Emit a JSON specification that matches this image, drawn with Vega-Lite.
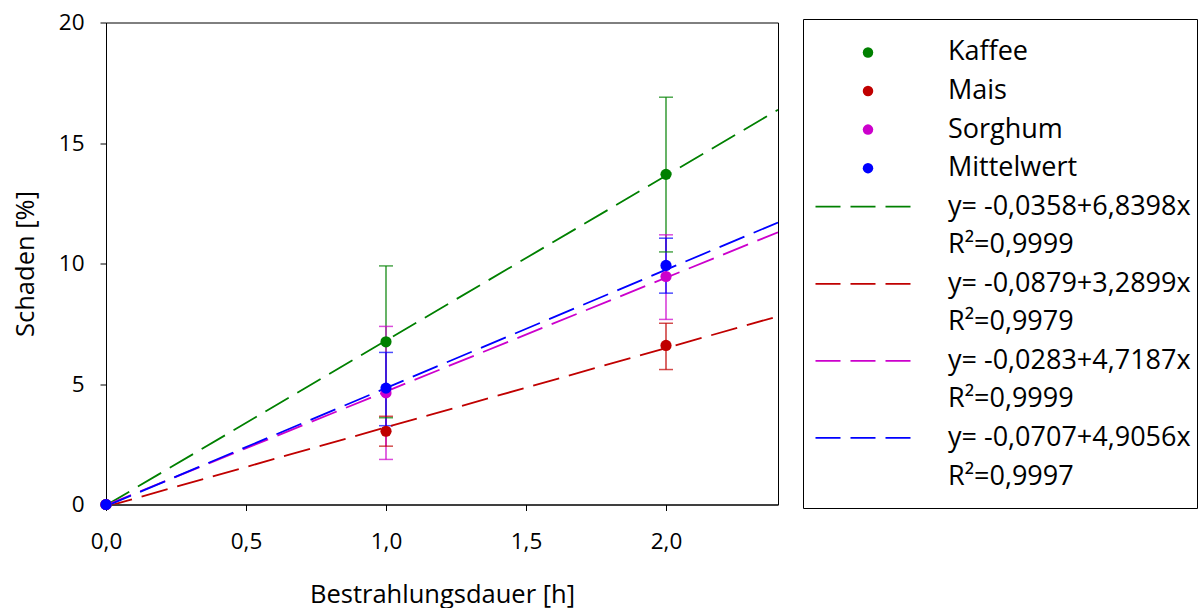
{
  "$schema": "https://vega.github.io/schema/vega-lite/v6.json",
  "background": "white",
  "padding": {"left": 12, "top": 11, "right": 0, "bottom": 0},
  "bounds": "flush",
  "center": true,
  "spacing": 25,
  "config": {
    "font": "Open Sans",
    "view": {"stroke": "#000000", "strokeWidth": 1},
    "axis": {"grid": false, "domainColor": "#000000", "tickColor": "#000000", "labelColor": "#000000", "titleColor": "#000000", "labelFont": "Open Sans", "titleFont": "Open Sans", "titleFontWeight": "normal", "labelFontSize": 22.5, "titleFontSize": 25.5, "tickSize": 6, "domainWidth": 1, "tickWidth": 1, "labelFlush": false}
  },
  "datasets": {
    "points": [
      {"series": "Kaffee", "x": 0, "y": 0, "lo": 0, "hi": 0},
      {"series": "Kaffee", "x": 1, "y": 6.75, "lo": 3.6, "hi": 9.9},
      {"series": "Kaffee", "x": 2, "y": 13.7, "lo": 10.48, "hi": 16.9},
      {"series": "Mais", "x": 0, "y": 0, "lo": 0, "hi": 0},
      {"series": "Mais", "x": 1, "y": 3.04, "lo": 2.42, "hi": 3.66},
      {"series": "Mais", "x": 2, "y": 6.6, "lo": 5.6, "hi": 7.52},
      {"series": "Sorghum", "x": 0, "y": 0, "lo": 0, "hi": 0},
      {"series": "Sorghum", "x": 1, "y": 4.63, "lo": 1.87, "hi": 7.39},
      {"series": "Sorghum", "x": 2, "y": 9.46, "lo": 7.68, "hi": 11.19},
      {"series": "Mittelwert", "x": 0, "y": 0, "lo": 0, "hi": 0},
      {"series": "Mittelwert", "x": 1, "y": 4.83, "lo": 3.27, "hi": 6.31},
      {"series": "Mittelwert", "x": 2, "y": 9.92, "lo": 8.77, "hi": 11.05}
    ],
    "fits": [
      {"series": "Kaffee", "x": 0, "y": -0.0358},
      {"series": "Kaffee", "x": 2.4, "y": 16.3797},
      {"series": "Mais", "x": 0, "y": -0.0879},
      {"series": "Mais", "x": 2.4, "y": 7.8079},
      {"series": "Sorghum", "x": 0, "y": -0.0283},
      {"series": "Sorghum", "x": 2.4, "y": 11.2966},
      {"series": "Mittelwert", "x": 0, "y": -0.0707},
      {"series": "Mittelwert", "x": 2.4, "y": 11.7027}
    ],
    "legend": [
      {"row": 1, "kind": "dot", "series": "Kaffee", "label": "Kaffee"},
      {"row": 2, "kind": "dot", "series": "Mais", "label": "Mais"},
      {"row": 3, "kind": "dot", "series": "Sorghum", "label": "Sorghum"},
      {"row": 4, "kind": "dot", "series": "Mittelwert", "label": "Mittelwert"},
      {"row": 5, "kind": "line", "series": "Kaffee", "label": "y= -0,0358+6,8398x"},
      {"row": 6, "kind": "text", "series": "Kaffee", "label": "R²=0,9999"},
      {"row": 7, "kind": "line", "series": "Mais", "label": "y= -0,0879+3,2899x"},
      {"row": 8, "kind": "text", "series": "Mais", "label": "R²=0,9979"},
      {"row": 9, "kind": "line", "series": "Sorghum", "label": "y= -0,0283+4,7187x"},
      {"row": 10, "kind": "text", "series": "Sorghum", "label": "R²=0,9999"},
      {"row": 11, "kind": "line", "series": "Mittelwert", "label": "y= -0,0707+4,9056x"},
      {"row": 12, "kind": "text", "series": "Mittelwert", "label": "R²=0,9997"}
    ]
  },
  "hconcat": [
    {
      "width": 672,
      "height": 482,
      "layer": [
        {
          "data": {"name": "points"},
          "transform": [{"filter": "datum.x > 0"}],
          "mark": {"type": "rule", "strokeWidth": 1.2},
          "encoding": {
            "x": {"field": "x", "type": "quantitative", "scale": {"domain": [0, 2.4], "nice": false}, "axis": {"title": "Bestrahlungsdauer [h]", "values": [0, 0.5, 1, 1.5, 2], "labelExpr": "replace(format(datum.value, '.1f'), '.', ',')", "labelPadding": 20, "titlePadding": 29, "labelFontSize": 22.5, "titleFontSize": 25.5, "labelFlush": false}},
            "y": {"field": "lo", "type": "quantitative", "scale": {"domain": [0, 20], "nice": false}, "axis": {"title": "Schaden [%]", "values": [0, 5, 10, 15, 20], "labelPadding": 16, "titlePadding": 20, "labelFontSize": 22.5, "titleFontSize": 25.5, "labelFlush": false}},
            "y2": {"field": "hi"},
            "color": {"field": "series", "type": "nominal", "scale": {"domain": ["Kaffee", "Mais", "Sorghum", "Mittelwert"], "range": ["#008000", "#C00000", "#CC00CC", "#0000FF"]}, "legend": null}
          }
        },
        {
          "data": {"name": "points"},
          "transform": [{"filter": "datum.x > 0"}],
          "mark": {"type": "tick", "orient": "horizontal", "size": 14, "thickness": 1.5},
          "encoding": {
            "x": {"field": "x", "type": "quantitative"},
            "y": {"field": "hi", "type": "quantitative"},
            "color": {"field": "series", "type": "nominal", "legend": null}
          }
        },
        {
          "data": {"name": "points"},
          "transform": [{"filter": "datum.x > 0"}],
          "mark": {"type": "tick", "orient": "horizontal", "size": 14, "thickness": 1.5},
          "encoding": {
            "x": {"field": "x", "type": "quantitative"},
            "y": {"field": "lo", "type": "quantitative"},
            "color": {"field": "series", "type": "nominal", "legend": null}
          }
        },
        {
          "data": {"name": "fits"},
          "mark": {"type": "line", "strokeDash": [27, 10], "strokeWidth": 1.8, "clip": true},
          "encoding": {
            "x": {"field": "x", "type": "quantitative"},
            "y": {"field": "y", "type": "quantitative"},
            "color": {"field": "series", "type": "nominal", "legend": null},
            "detail": {"field": "series"}
          }
        },
        {
          "data": {"name": "points"},
          "mark": {"type": "point", "shape": "circle", "filled": true, "opacity": 1, "size": 125},
          "encoding": {
            "x": {"field": "x", "type": "quantitative"},
            "y": {"field": "y", "type": "quantitative"},
            "color": {"field": "series", "type": "nominal", "legend": null}
          }
        }
      ]
    },
    {
      "width": 394,
      "height": 489,
      "data": {"name": "legend"},
      "layer": [
        {
          "transform": [{"filter": "datum.kind == 'dot'"}],
          "mark": {"type": "point", "shape": "circle", "filled": true, "opacity": 1, "size": 110},
          "encoding": {
            "x": {"datum": "sym", "type": "nominal", "scale": {"type": "point", "domain": ["sym", "txt"], "range": [65, 145], "padding": 0}, "axis": null},
            "y": {"field": "row", "type": "quantitative", "scale": {"domain": [0.131, 12.817], "reverse": true, "nice": false, "zero": false}, "axis": null},
            "color": {"field": "series", "type": "nominal", "scale": {"domain": ["Kaffee", "Mais", "Sorghum", "Mittelwert"], "range": ["#008000", "#C00000", "#CC00CC", "#0000FF"]}, "legend": null}
          }
        },
        {
          "transform": [{"filter": "datum.kind == 'line'"}],
          "mark": {"type": "point", "shape": "stroke", "filled": false, "opacity": 1, "size": 11025, "strokeDash": [25, 10], "strokeWidth": 1.8},
          "encoding": {
            "x": {"datum": "sym", "type": "nominal"},
            "y": {"field": "row", "type": "quantitative"},
            "color": {"field": "series", "type": "nominal", "legend": null}
          }
        },
        {
          "mark": {"type": "text", "align": "left", "baseline": "middle", "fontSize": 27, "color": "#000000"},
          "encoding": {
            "x": {"datum": "txt", "type": "nominal"},
            "y": {"field": "row", "type": "quantitative"},
            "text": {"field": "label"}
          }
        }
      ]
    }
  ]
}
